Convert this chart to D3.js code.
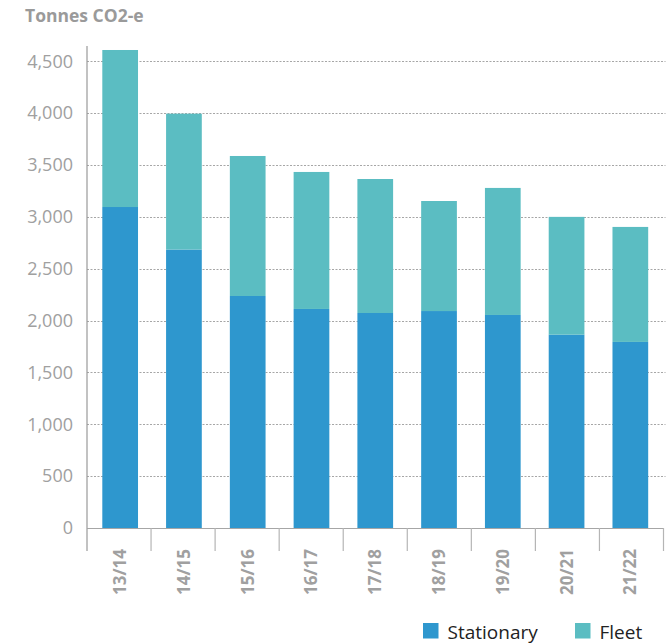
<!DOCTYPE html>
<html>
<head>
<meta charset="utf-8">
<script src="https://cdn.jsdelivr.net/npm/d3@7"></script>
<style>
  body { margin: 0; background: #fff; }
  svg { display: block; font-family: "Open Sans", sans-serif; }
</style>
</head>
<body>
<svg id="chart"></svg>
<script>
// data
let years = ['13/14', '14/15', '15/16', '16/17', '17/18', '18/19', '19/20', '20/21', '21/22']
let stationary = [3095, 2685, 2237, 2112, 2073, 2092, 2054, 1864, 1794]
let fleet = [1514, 1310, 1350, 1321, 1292, 1061, 1225, 1136, 1109]
let yTicks = [0, 500, 1000, 1500, 2000, 2500, 3000, 3500, 4000, 4500]
let seriesNames = ['Stationary', 'Fleet']
let colors = ['#2e97ce', '#5bbdc2']

let width = 670
let height = 644
let plotLeft = 87
let plotRight = 663.5
let plotBottom = 528
let plotTop = 61.3

let svg = d3.select('#chart')
            .attr('width', width)
            .attr('height', height)

let rows = years.map((y, i) => ({ year: y, Stationary: stationary[i], Fleet: fleet[i] }))
let stacked = d3.stack().keys(seriesNames)(rows)

let x = d3.scaleBand()
          .domain(years)
          .range([plotLeft, plotRight])
          .paddingInner(0.44)
          .paddingOuter(0.24)

let y = d3.scaleLinear()
          .domain([0, 4500])
          .range([plotBottom, plotTop])

// gridlines
svg.append('g')
    .selectAll('line')
    .data(yTicks.filter(d => d > 0))
    .enter()
    .append('line')
    .attr('x1', plotLeft)
    .attr('x2', plotRight + 2)
    .attr('y1', d => Math.round(y(d)) + 0.5)
    .attr('y2', d => Math.round(y(d)) + 0.5)
    .attr('stroke', '#a6a6a6')
    .attr('stroke-dasharray', '2,1.5')

// bars
svg.append('g')
    .selectAll('g')
    .data(stacked)
    .enter()
    .append('g')
    .attr('fill', (d, i) => colors[i])
    .selectAll('rect')
    .data(d => d)
    .enter()
    .append('rect')
    .attr('x', d => x(d.data.year))
    .attr('width', x.bandwidth())
    .attr('y', d => y(d[1]))
    .attr('height', d => y(d[0]) - y(d[1]))

// y axis
let yAxis = d3.axisLeft(y).tickValues(yTicks).tickSize(0).tickPadding(14).tickFormat(d3.format(','))
let yg = svg.append('g')
    .attr('transform', `translate(${plotLeft},0)`)
    .call(yAxis)
yg.select('.domain').remove()
yg.selectAll('text')
    .attr('font-size', 18)
    .attr('font-family', '"Open Sans", sans-serif')
    .attr('fill', '#a0a0a0')

svg.append('line')
    .attr('x1', plotLeft).attr('x2', plotLeft)
    .attr('y1', 46).attr('y2', 551)
    .attr('stroke', '#999')
    .attr('stroke-width', 1.2)

// x axis baseline and separators
svg.append('line')
    .attr('x1', plotLeft).attr('x2', plotRight)
    .attr('y1', plotBottom + 0.5).attr('y2', plotBottom + 0.5)
    .attr('stroke', '#a6a6a6')
    .attr('stroke-width', 1.2)

let step = (plotRight - plotLeft) / years.length
svg.append('g')
    .selectAll('line')
    .data(years)
    .enter()
    .append('line')
    .attr('x1', (d, i) => plotLeft + (i + 1) * step)
    .attr('x2', (d, i) => plotLeft + (i + 1) * step)
    .attr('y1', plotBottom)
    .attr('y2', 551)
    .attr('stroke', '#b5b5b5')
    .attr('stroke-width', 1.2)

// category labels
svg.append('g')
    .selectAll('text')
    .data(years)
    .enter()
    .append('text')
    .attr('transform', d => `translate(${x(d) + x.bandwidth() / 2 + 6},549) rotate(-90)`)
    .attr('text-anchor', 'end')
    .attr('font-size', 17)
    .attr('font-weight', 'bold')
    .attr('fill', '#a0a0a0')
    .text(d => d)

// title
svg.append('text')
    .attr('x', 25)
    .attr('y', 22)
    .attr('font-size', 17.5)
    .attr('font-weight', 'bold')
    .attr('fill', '#9a9a9a')
    .text('Tonnes CO2-e')

// legend
let legendX = [423, 575]
let legend = svg.append('g')
    .selectAll('g')
    .data(seriesNames)
    .enter()
    .append('g')
    .attr('transform', (d, i) => `translate(${legendX[i]},623)`)
legend.append('rect')
    .attr('width', 15.5)
    .attr('height', 15.5)
    .attr('fill', (d, i) => colors[i])
legend.append('text')
    .attr('x', 24.5)
    .attr('y', 15.5)
    .attr('font-size', 19)
    .attr('fill', '#222')
    .text(d => d)
</script>
</body>
</html>
